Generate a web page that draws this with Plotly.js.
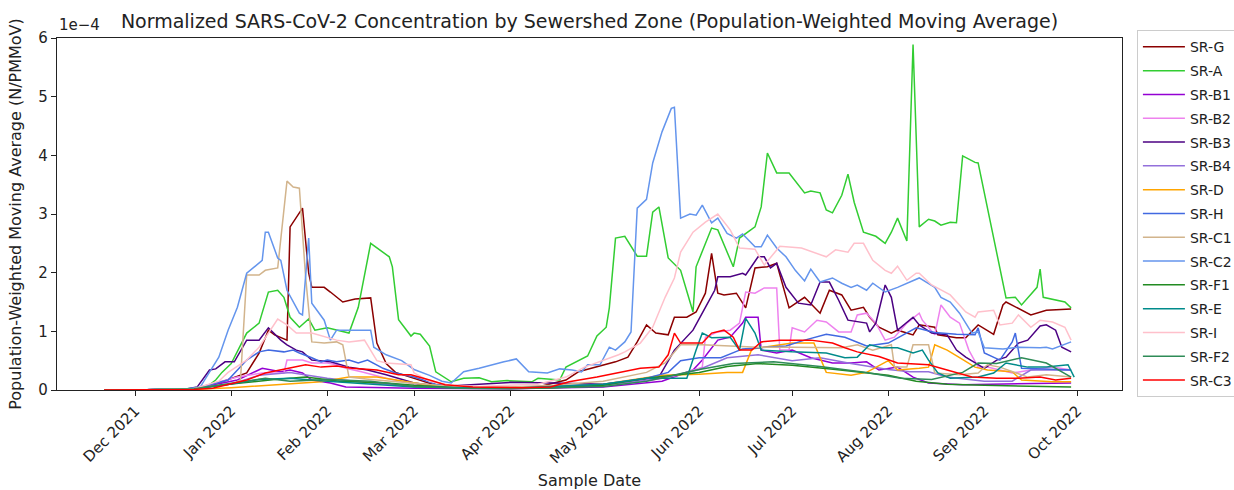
<!DOCTYPE html>
<html><head><meta charset="utf-8">
<script src="https://cdn.plot.ly/plotly-3.0.1.min.js"></script>
<style>html,body{margin:0;padding:0;background:#fff}#chart{width:1234px;height:490px}</style>
</head><body><div id="chart"></div>
<script>
// Values are in units of 1e-4 (N/PMMoV)
const seriesNames = ["SR-G","SR-A","SR-B1","SR-B2","SR-B3","SR-B4","SR-D","SR-H","SR-C1","SR-C2","SR-F1","SR-E","SR-I","SR-F2","SR-C3"];
const seriesColors = ["#8B0000","#32CD32","#9400D3","#EE82EE","#4B0082","#9370DB","#FFA500","#4169E1","#D2B48C","#6495ED","#228B22","#008B8B","#FFC0CB","#2E8B57","#FF0000"];

const srG = [["2021-11-21",0],["2021-12-01",0],["2021-12-20",0.02],["2021-12-26",0.08],["2022-01-06",0.29],["2022-01-10",0.63],["2022-01-13",1.02],["2022-01-15",0.94],["2022-01-19",0.85],["2022-01-20",2.78],["2022-01-24",3.1],["2022-01-26",1.99],["2022-01-27",1.75],["2022-01-31",1.75],["2022-02-02",1.67],["2022-02-06",1.5],["2022-02-10",1.55],["2022-02-15",1.57],["2022-02-17",0.8],["2022-02-20",0.45],["2022-02-23",0.3],["2022-03-01",0.2],["2022-03-08",0.08],["2022-03-15",0.04],["2022-04-01",0.03],["2022-04-10",0.05],["2022-04-19",0.17],["2022-04-23",0.31],["2022-04-29",0.4],["2022-05-05",0.48],["2022-05-09",0.56],["2022-05-12",0.82],["2022-05-15",1.11],["2022-05-18",0.97],["2022-05-22",0.94],["2022-05-24",1.24],["2022-05-28",1.24],["2022-05-31",1.33],["2022-06-03",1.65],["2022-06-05",2.33],["2022-06-07",1.65],["2022-06-09",1.62],["2022-06-13",1.65],["2022-06-16",1.4],["2022-06-19",2.08],["2022-06-23",2.1],["2022-06-26",2.16],["2022-06-30",1.4],["2022-07-05",1.58],["2022-07-10",1.31],["2022-07-13",1.7],["2022-07-17",1.62],["2022-07-20",1.36],["2022-07-24",1.41],["2022-07-26",1.24],["2022-07-29",1.07],["2022-08-02",0.97],["2022-08-04",1.02],["2022-08-09",0.94],["2022-08-11",1.11],["2022-08-16",1.07],["2022-08-17",0.94],["2022-08-23",0.89],["2022-08-26",0.89],["2022-08-30",1.11],["2022-09-04",0.95],["2022-09-07",1.45],["2022-09-08",1.5],["2022-09-16",1.28],["2022-09-19",1.33],["2022-09-21",1.36],["2022-09-29",1.38]];

const srA = [["2021-11-21",0],["2021-12-01",0],["2021-12-15",0.01],["2021-12-24",0.05],["2021-12-27",0.17],["2021-12-29",0.3],["2022-01-01",0.45],["2022-01-06",0.97],["2022-01-10",1.14],["2022-01-13",1.67],["2022-01-16",1.7],["2022-01-18",1.58],["2022-01-20",1.24],["2022-01-23",1.07],["2022-01-26",1.21],["2022-01-28",1.02],["2022-02-01",1.06],["2022-02-08",0.97],["2022-02-11",1.41],["2022-02-15",2.5],["2022-02-21",2.27],["2022-02-22",2.1],["2022-02-24",1.2],["2022-02-28",0.92],["2022-03-01",0.97],["2022-03-03",0.95],["2022-03-06",0.75],["2022-03-08",0.31],["2022-03-13",0.14],["2022-03-17",0.2],["2022-03-22",0.21],["2022-03-26",0.14],["2022-03-31",0.16],["2022-04-08",0.14],["2022-04-10",0.2],["2022-04-17",0.17],["2022-04-19",0.39],["2022-04-26",0.58],["2022-04-29",0.92],["2022-05-02",1.07],["2022-05-03",1.4],["2022-05-05",2.59],["2022-05-08",2.62],["2022-05-12",2.28],["2022-05-15",2.28],["2022-05-17",3.03],["2022-05-19",3.12],["2022-05-22",2.25],["2022-05-26",2.04],["2022-05-30",1.33],["2022-05-31",2.1],["2022-06-05",2.76],["2022-06-07",2.73],["2022-06-12",2.1],["2022-06-14",2.59],["2022-06-19",2.78],["2022-06-21",3.12],["2022-06-23",4.04],["2022-06-26",3.7],["2022-06-30",3.7],["2022-07-05",3.36],["2022-07-07",3.39],["2022-07-10",3.36],["2022-07-12",3.07],["2022-07-14",3.02],["2022-07-17",3.32],["2022-07-19",3.68],["2022-07-21",3.2],["2022-07-24",2.69],["2022-07-28",2.62],["2022-07-31",2.5],["2022-08-02",2.69],["2022-08-04",2.93],["2022-08-07",2.54],["2022-08-09",5.89],["2022-08-11",2.78],["2022-08-14",2.91],["2022-08-16",2.88],["2022-08-18",2.81],["2022-08-21",2.86],["2022-08-23",2.85],["2022-08-25",3.99],["2022-08-29",3.88],["2022-08-30",3.87],["2022-09-08",1.57],["2022-09-11",1.58],["2022-09-13",1.45],["2022-09-18",1.75],["2022-09-19",2.06],["2022-09-20",1.58],["2022-09-27",1.5],["2022-09-29",1.4]];

const srB1 = [["2021-11-21",0],["2021-12-01",0],["2021-12-20",0.02],["2021-12-27",0.1],["2022-01-03",0.17],["2022-01-09",0.32],["2022-01-11",0.37],["2022-01-17",0.31],["2022-01-20",0.34],["2022-01-24",0.29],["2022-01-27",0.17],["2022-02-02",0.12],["2022-02-07",0.05],["2022-03-01",0.03],["2022-04-01",0.02],["2022-05-01",0.05],["2022-05-20",0.15],["2022-05-30",0.34],["2022-06-02",0.51],["2022-06-07",0.85],["2022-06-11",0.9],["2022-06-15",1.14],["2022-06-16",1.24],["2022-06-20",1.24],["2022-06-21",0.68],["2022-06-26",0.63],["2022-07-01",0.68],["2022-07-07",0.55],["2022-07-14",0.46],["2022-07-20",0.46],["2022-07-25",0.48],["2022-07-29",0.34],["2022-08-02",0.37],["2022-08-04",0.39],["2022-08-09",0.22],["2022-08-14",0.12],["2022-08-25",0.09],["2022-09-05",0.1],["2022-09-16",0.12],["2022-09-29",0.12]];

const srB2 = [["2021-11-21",0],["2021-12-01",0],["2021-12-20",0.02],["2022-01-03",0.22],["2022-01-11",0.29],["2022-01-18",0.29],["2022-01-19",0.51],["2022-01-24",0.51],["2022-01-27",0.46],["2022-02-01",0.46],["2022-02-04",0.43],["2022-02-07",0.37],["2022-02-12",0.31],["2022-02-20",0.2],["2022-03-01",0.1],["2022-03-15",0.05],["2022-04-01",0.04],["2022-04-15",0.05],["2022-05-01",0.08],["2022-05-15",0.15],["2022-05-25",0.25],["2022-06-02",0.39],["2022-06-03",0.9],["2022-06-07",0.99],["2022-06-11",1.02],["2022-06-14",1.14],["2022-06-16",1.67],["2022-06-19",1.65],["2022-06-22",1.74],["2022-06-26",1.74],["2022-06-27",0.68],["2022-06-30",0.68],["2022-07-01",1.06],["2022-07-05",0.99],["2022-07-09",1.19],["2022-07-12",1.16],["2022-07-16",0.99],["2022-07-20",0.99],["2022-07-22",1.28],["2022-07-25",1.31],["2022-07-28",1.14],["2022-07-31",0.85],["2022-08-03",0.9],["2022-08-07",1.14],["2022-08-11",1.31],["2022-08-12",1.19],["2022-08-16",0.94],["2022-08-18",1.45],["2022-08-21",1.24],["2022-08-24",1.14],["2022-08-27",0.68],["2022-08-30",0.39],["2022-09-02",0.39],["2022-09-10",0.29],["2022-09-16",0.34],["2022-09-23",0.39],["2022-09-29",0.34]];

const srB3 = [["2021-11-21",0],["2021-12-01",0],["2021-12-18",0.02],["2021-12-21",0.05],["2021-12-25",0.34],["2021-12-27",0.36],["2021-12-30",0.48],["2022-01-02",0.48],["2022-01-06",0.85],["2022-01-10",0.85],["2022-01-13",1.06],["2022-01-17",0.85],["2022-01-19",0.77],["2022-01-22",0.68],["2022-01-24",0.65],["2022-01-27",0.51],["2022-02-02",0.48],["2022-02-08",0.39],["2022-02-14",0.34],["2022-02-20",0.26],["2022-03-01",0.12],["2022-03-10",0.06],["2022-03-22",0.1],["2022-04-01",0.13],["2022-04-15",0.12],["2022-05-01",0.1],["2022-05-10",0.15],["2022-05-19",0.22],["2022-05-24",0.68],["2022-05-30",1.02],["2022-06-03",1.41],["2022-06-06",1.7],["2022-06-07",1.93],["2022-06-11",1.93],["2022-06-15",1.99],["2022-06-16",1.96],["2022-06-20",2.27],["2022-06-22",2.27],["2022-06-24",2.08],["2022-06-26",2.16],["2022-06-29",1.75],["2022-07-03",1.48],["2022-07-07",1.45],["2022-07-10",1.84],["2022-07-13",1.84],["2022-07-16",1.53],["2022-07-19",1.19],["2022-07-22",1.16],["2022-07-25",1.14],["2022-07-26",0.99],["2022-07-28",1.14],["2022-07-31",1.79],["2022-08-02",1.58],["2022-08-04",1.02],["2022-08-09",1.24],["2022-08-11",1.11],["2022-08-15",0.97],["2022-08-20",0.94],["2022-08-23",0.68],["2022-08-26",0.56],["2022-08-29",0.46],["2022-09-01",0.37],["2022-09-05",0.51],["2022-09-08",0.56],["2022-09-12",0.8],["2022-09-15",0.85],["2022-09-19",1.09],["2022-09-21",1.11],["2022-09-24",1.02],["2022-09-26",0.73],["2022-09-29",0.65]];

const srB4 = [["2021-11-21",0],["2021-12-01",0],["2021-12-20",0.02],["2022-01-01",0.1],["2022-01-10",0.25],["2022-01-20",0.3],["2022-02-01",0.2],["2022-02-15",0.12],["2022-03-01",0.06],["2022-04-01",0.03],["2022-05-01",0.08],["2022-05-20",0.2],["2022-06-01",0.35],["2022-06-10",0.55],["2022-06-20",0.6],["2022-07-01",0.5],["2022-07-10",0.55],["2022-07-20",0.45],["2022-08-01",0.35],["2022-08-08",0.31],["2022-08-14",0.31],["2022-08-20",0.22],["2022-09-01",0.15],["2022-09-10",0.15],["2022-09-16",0.34],["2022-09-29",0.34]];

const srD = [["2021-11-21",0],["2021-12-01",0],["2021-12-20",0.01],["2022-01-01",0.04],["2022-01-17",0.09],["2022-01-30",0.14],["2022-02-08",0.22],["2022-02-17",0.22],["2022-03-05",0.09],["2022-03-20",0.04],["2022-04-10",0.04],["2022-05-01",0.1],["2022-05-20",0.25],["2022-06-01",0.27],["2022-06-10",0.3],["2022-06-15",0.3],["2022-06-18",0.7],["2022-07-01",0.8],["2022-07-08",0.8],["2022-07-12",0.3],["2022-07-20",0.25],["2022-07-25",0.3],["2022-08-01",0.5],["2022-08-04",0.34],["2022-08-11",0.37],["2022-08-14",0.39],["2022-08-16",0.77],["2022-08-20",0.68],["2022-08-24",0.55],["2022-08-29",0.39],["2022-09-02",0.34],["2022-09-10",0.31],["2022-09-13",0.17],["2022-09-23",0.14],["2022-09-29",0.14]];

const srH = [["2021-11-21",0],["2021-12-01",0],["2021-12-20",0.02],["2021-12-31",0.17],["2022-01-06",0.51],["2022-01-10",0.65],["2022-01-13",0.68],["2022-01-18",0.65],["2022-01-21",0.68],["2022-01-23",0.63],["2022-01-27",0.55],["2022-01-30",0.48],["2022-02-01",0.51],["2022-02-04",0.48],["2022-02-08",0.51],["2022-02-11",0.46],["2022-02-14",0.51],["2022-02-19",0.37],["2022-02-23",0.29],["2022-03-01",0.22],["2022-03-08",0.1],["2022-03-15",0.05],["2022-04-01",0.04],["2022-04-15",0.06],["2022-05-01",0.1],["2022-05-15",0.2],["2022-05-22",0.3],["2022-05-26",0.5],["2022-06-01",0.55],["2022-06-08",0.55],["2022-06-15",0.7],["2022-06-22",0.72],["2022-06-29",0.75],["2022-07-05",0.85],["2022-07-12",0.95],["2022-07-18",0.9],["2022-07-25",0.75],["2022-08-01",0.8],["2022-08-10",1.06],["2022-08-16",0.98],["2022-08-23",0.95],["2022-08-29",0.94],["2022-08-30",1.06],["2022-09-01",0.63],["2022-09-06",0.51],["2022-09-10",0.82],["2022-09-11",0.97],["2022-09-13",0.37],["2022-09-29",0.34]];

const srC1 = [["2021-11-21",0],["2021-12-01",0],["2021-12-20",0.02],["2022-01-02",0.12],["2022-01-04",0.17],["2022-01-06",1.96],["2022-01-10",1.96],["2022-01-12",2.04],["2022-01-16",2.08],["2022-01-19",3.56],["2022-01-21",3.46],["2022-01-23",3.44],["2022-01-25",1.93],["2022-01-27",0.82],["2022-01-31",0.8],["2022-02-04",0.82],["2022-02-06",0.77],["2022-02-08",0.22],["2022-02-15",0.18],["2022-03-01",0.12],["2022-03-15",0.05],["2022-04-01",0.05],["2022-04-15",0.08],["2022-05-01",0.15],["2022-05-15",0.3],["2022-05-21",0.46],["2022-05-26",0.77],["2022-06-02",0.77],["2022-06-09",0.75],["2022-06-20",0.73],["2022-07-01",0.73],["2022-07-10",0.72],["2022-07-17",0.72],["2022-07-22",0.77],["2022-07-27",0.68],["2022-08-02",0.77],["2022-08-03",0.39],["2022-08-07",0.39],["2022-08-09",0.77],["2022-08-14",0.77],["2022-08-16",0.29],["2022-08-24",0.26],["2022-08-30",0.29],["2022-09-02",0.43],["2022-09-06",0.39],["2022-09-15",0.22],["2022-09-21",0.26],["2022-09-29",0.22]];

const srC2 = [["2021-11-21",0],["2021-12-01",0],["2021-12-18",0.02],["2021-12-22",0.05],["2021-12-28",0.56],["2021-12-31",1.02],["2022-01-03",1.41],["2022-01-06",1.99],["2022-01-11",2.21],["2022-01-12",2.69],["2022-01-13",2.69],["2022-01-16",2.25],["2022-01-17",2.21],["2022-01-19",1.7],["2022-01-23",1.31],["2022-01-24",1.28],["2022-01-26",2.59],["2022-01-27",1.48],["2022-01-31",1.19],["2022-02-02",0.85],["2022-02-04",1.02],["2022-02-08",1.02],["2022-02-15",1.02],["2022-02-16",0.73],["2022-02-20",0.6],["2022-02-25",0.5],["2022-03-01",0.35],["2022-03-06",0.25],["2022-03-10",0.15],["2022-03-13",0.12],["2022-03-17",0.31],["2022-03-22",0.37],["2022-03-26",0.43],["2022-03-30",0.48],["2022-04-03",0.53],["2022-04-07",0.31],["2022-04-13",0.29],["2022-04-17",0.36],["2022-04-21",0.34],["2022-04-24",0.31],["2022-04-26",0.43],["2022-04-30",0.43],["2022-05-03",0.73],["2022-05-05",0.68],["2022-05-08",0.82],["2022-05-10",0.99],["2022-05-12",3.1],["2022-05-15",3.25],["2022-05-17",3.87],["2022-05-20",4.4],["2022-05-23",4.8],["2022-05-24",4.82],["2022-05-26",2.93],["2022-05-29",3.0],["2022-05-31",2.98],["2022-06-02",3.15],["2022-06-05",2.85],["2022-06-07",2.93],["2022-06-10",2.67],["2022-06-13",2.59],["2022-06-15",2.66],["2022-06-19",2.44],["2022-06-21",2.44],["2022-06-23",2.64],["2022-06-26",2.42],["2022-06-29",2.27],["2022-07-02",2.04],["2022-07-05",1.86],["2022-07-07",2.06],["2022-07-10",1.84],["2022-07-14",1.91],["2022-07-17",1.82],["2022-07-20",1.75],["2022-07-22",1.79],["2022-07-25",1.7],["2022-07-27",1.82],["2022-07-31",1.67],["2022-08-04",1.75],["2022-08-11",1.91],["2022-08-16",1.75],["2022-08-18",1.58],["2022-08-21",1.5],["2022-08-24",1.31],["2022-08-28",0.97],["2022-08-30",0.99],["2022-09-01",0.72],["2022-09-07",0.7],["2022-09-12",0.73],["2022-09-19",0.72],["2022-09-21",0.73],["2022-09-23",0.7],["2022-09-29",0.82]];

const srF1 = [["2021-11-21",0],["2021-12-01",0],["2021-12-20",0.02],["2022-01-01",0.1],["2022-01-15",0.18],["2022-01-25",0.22],["2022-02-05",0.15],["2022-02-20",0.12],["2022-03-01",0.08],["2022-03-15",0.04],["2022-04-01",0.03],["2022-04-15",0.04],["2022-05-01",0.08],["2022-05-15",0.2],["2022-06-01",0.3],["2022-06-10",0.4],["2022-06-20",0.45],["2022-07-01",0.42],["2022-07-15",0.35],["2022-08-01",0.25],["2022-08-10",0.15],["2022-08-20",0.1],["2022-09-01",0.08],["2022-09-15",0.06],["2022-09-29",0.05]];

const srE = [["2021-11-21",0],["2021-12-01",0],["2021-12-20",0.02],["2022-01-01",0.1],["2022-01-10",0.18],["2022-01-20",0.2],["2022-02-01",0.15],["2022-02-15",0.1],["2022-03-01",0.05],["2022-04-01",0.03],["2022-05-01",0.1],["2022-05-15",0.2],["2022-05-28",0.2],["2022-05-31",0.68],["2022-06-02",0.97],["2022-06-05",0.89],["2022-06-11",0.9],["2022-06-14",0.68],["2022-06-16",1.22],["2022-06-19",0.97],["2022-06-21",0.68],["2022-07-01",0.65],["2022-07-12",0.63],["2022-07-18",0.55],["2022-07-22",0.56],["2022-07-26",0.77],["2022-07-30",0.72],["2022-08-04",0.72],["2022-08-09",0.63],["2022-08-12",0.68],["2022-08-14",0.51],["2022-08-17",0.29],["2022-08-21",0.2],["2022-08-30",0.22],["2022-09-04",0.29],["2022-09-08",0.46],["2022-09-15",0.39],["2022-09-21",0.39],["2022-09-28",0.43],["2022-09-30",0.22]];

const srI = [["2021-11-21",0],["2021-12-01",0],["2021-12-20",0.02],["2021-12-28",0.15],["2021-12-31",0.3],["2022-01-06",0.51],["2022-01-10",0.73],["2022-01-16",1.21],["2022-01-19",1.11],["2022-01-22",0.97],["2022-01-27",0.97],["2022-02-04",0.85],["2022-02-08",0.82],["2022-02-13",0.85],["2022-02-17",0.5],["2022-02-20",0.46],["2022-02-28",0.43],["2022-03-01",0.29],["2022-03-06",0.15],["2022-03-13",0.08],["2022-03-22",0.06],["2022-04-01",0.08],["2022-04-10",0.1],["2022-04-19",0.22],["2022-04-25",0.39],["2022-05-06",0.6],["2022-05-08",0.65],["2022-05-13",0.8],["2022-05-17",1.07],["2022-05-21",1.58],["2022-05-24",1.91],["2022-05-26",2.35],["2022-05-30",2.69],["2022-06-03",2.86],["2022-06-07",3.0],["2022-06-11",2.73],["2022-06-14",2.42],["2022-06-19",2.4],["2022-06-22",2.13],["2022-06-27",2.45],["2022-07-04",2.42],["2022-07-12",2.27],["2022-07-15",2.39],["2022-07-19",2.35],["2022-07-21",2.5],["2022-07-24",2.5],["2022-07-27",2.21],["2022-07-31",2.04],["2022-08-02",1.99],["2022-08-04",2.11],["2022-08-07",1.87],["2022-08-10",1.99],["2022-08-11",1.99],["2022-08-15",1.79],["2022-08-21",1.62],["2022-08-26",1.33],["2022-08-29",1.24],["2022-08-30",1.33],["2022-09-04",1.36],["2022-09-06",1.11],["2022-09-10",1.14],["2022-09-12",1.28],["2022-09-16",1.07],["2022-09-19",1.19],["2022-09-23",1.16],["2022-09-27",1.07],["2022-09-29",0.85]];

const srF2 = [["2021-11-21",0],["2021-12-01",0],["2021-12-20",0.02],["2022-01-01",0.12],["2022-01-12",0.2],["2022-01-20",0.15],["2022-02-01",0.18],["2022-02-15",0.15],["2022-03-01",0.06],["2022-03-15",0.03],["2022-04-01",0.02],["2022-05-01",0.06],["2022-05-15",0.15],["2022-06-01",0.35],["2022-06-12",0.45],["2022-06-25",0.48],["2022-07-10",0.4],["2022-07-25",0.3],["2022-08-05",0.2],["2022-08-15",0.18],["2022-08-25",0.3],["2022-08-30",0.46],["2022-09-05",0.45],["2022-09-13",0.55],["2022-09-21",0.46],["2022-09-29",0.22]];

const srC3 = [["2021-11-21",0],["2021-12-01",0],["2021-12-20",0.01],["2021-12-26",0.03],["2022-01-06",0.17],["2022-01-12",0.29],["2022-01-17",0.34],["2022-01-20",0.37],["2022-01-25",0.43],["2022-01-30",0.39],["2022-02-04",0.41],["2022-02-09",0.37],["2022-02-15",0.34],["2022-02-17",0.34],["2022-02-24",0.26],["2022-02-28",0.26],["2022-03-06",0.17],["2022-03-11",0.09],["2022-03-20",0.05],["2022-04-05",0.04],["2022-04-14",0.05],["2022-04-20",0.14],["2022-04-29",0.22],["2022-05-06",0.29],["2022-05-08",0.31],["2022-05-13",0.37],["2022-05-19",0.39],["2022-05-22",0.6],["2022-05-24",0.97],["2022-05-26",0.8],["2022-06-02",0.8],["2022-06-05",0.97],["2022-06-09",1.02],["2022-06-12",0.9],["2022-06-14",0.68],["2022-06-18",0.68],["2022-06-21",0.82],["2022-06-27",0.85],["2022-07-07",0.85],["2022-07-14",0.8],["2022-07-18",0.72],["2022-07-22",0.65],["2022-07-29",0.57],["2022-08-04",0.46],["2022-08-14",0.43],["2022-08-20",0.34],["2022-08-28",0.22],["2022-09-05",0.2],["2022-09-12",0.2],["2022-09-19",0.22],["2022-09-24",0.17],["2022-09-29",0.2]];

const seriesData = [srG, srA, srB1, srB2, srB3, srB4, srD, srH, srC1, srC2, srF1, srE, srI, srF2, srC3];

const monthTicks = ["2021-12-01","2022-01-01","2022-02-01","2022-03-01","2022-04-01","2022-05-01","2022-06-01","2022-07-01","2022-08-01","2022-09-01","2022-10-01"];
const yTicks = [0,1,2,3,4,5,6];

const FONT = "DejaVu Sans, Liberation Sans, sans-serif";
const INK = "#222";
const traces = seriesNames.map((name, i) => ({
  type: "scatter", mode: "lines", name: name,
  legendgroup: name,
  x: seriesData[i].map(p => p[0]),
  y: seriesData[i].map(p => p[1]),
  line: {color: seriesColors[i], width: 1.5},
  hoverinfo: "skip"
}));

const layout = {
  width: 1234, height: 490,
  margin: {l: 57, r: 112, t: 38, b: 100, pad: 0, autoexpand: false},
  paper_bgcolor: "#fff", plot_bgcolor: "#fff",
  font: {family: FONT, size: 15, color: INK},
  title: {text: "Normalized SARS-CoV-2 Concentration by Sewershed Zone (Population-Weighted Moving Average)",
          font: {family: FONT, size: 19, color: INK}, x: 0.5, xref: "paper", y: 0.957, yref: "container", yanchor: "middle"},
  xaxis: {type: "date", range: ["2021-11-05 19:00", "2022-10-15 10:00"],
          tickvals: monthTicks, tickformat: "%b %Y", tickangle: -45,
          ticks: "outside", ticklen: 5, tickwidth: 1, tickcolor: INK,
          showline: true, mirror: true, linecolor: INK, linewidth: 1.2,
          showgrid: false, zeroline: false, automargin: false,
          tickfont: {family: FONT, size: 15, color: INK},
          title: {text: "Sample Date", font: {family: FONT, size: 16, color: INK}, standoff: 10}},
  yaxis: {range: [0, 6], tickvals: yTicks, ticktext: yTicks.map(String),
          ticks: "outside", ticklen: 5, tickwidth: 1, tickcolor: INK,
          showline: true, mirror: true, linecolor: INK, linewidth: 1.2,
          showgrid: false, zeroline: false, automargin: false,
          tickfont: {family: FONT, size: 15, color: INK},
          title: {text: "Population-Weighted Moving Average (N/PMMoV)", font: {family: FONT, size: 16, color: INK}, standoff: 12}},
  legend: {x: 1.014, xanchor: "left", y: 1.022, yanchor: "top",
           bgcolor: "#fff", bordercolor: "#cccccc", borderwidth: 1,
           itemwidth: 42, maxheight: 480,
           font: {family: FONT, size: 14, color: INK}, tracegroupgap: 2.6},
  annotations: [{text: "1e\u22124", xref: "paper", yref: "paper", x: 0, y: 1, xanchor: "left", yanchor: "bottom",
                 yshift: 2, showarrow: false, font: {family: FONT, size: 15, color: INK}}],
  showlegend: true
};

Plotly.newPlot("chart", traces, layout, {displayModeBar: false, staticPlot: true});
</script>
</body></html>
